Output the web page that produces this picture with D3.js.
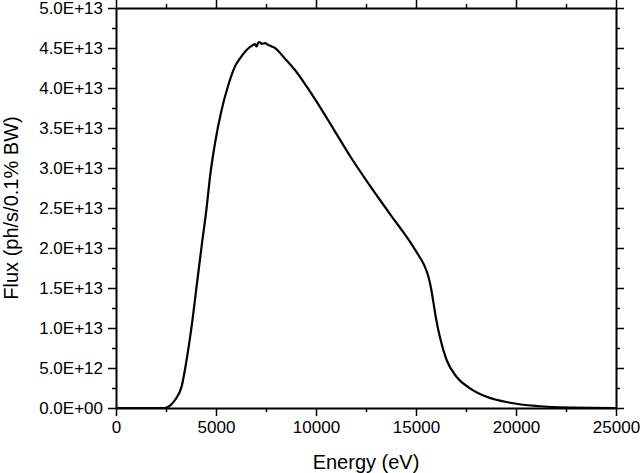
<!DOCTYPE html>
<html lang="en">
<head>
    <meta charset="utf-8">
    <title>Flux vs Energy</title>
    <style type="text/css">
        body { margin: 0; background: #fff; }
        svg { font-family: "Liberation Sans", Arial, sans-serif; }
        .line { fill: none; stroke: #000; stroke-width: 2.2; stroke-linejoin: round; }
        .axis path { stroke: #000; stroke-width: 2; }
        .axis line { stroke: #000; stroke-width: 1.5; }
        .axis text { font-size: 17px; fill: #000; }
        .title { font-size: 20px; fill: #000; }
    </style>
</head>
<body>
<div id="chart"></div>

<script src="https://d3js.org/d3.v7.min.js"></script>
<script type="text/javascript">

    // energy in eV, flux in ph/s/0.1% BW
    var energy = [0, 2450, 2700, 2950, 3280, 3530, 3780, 4030, 4280, 4530, 4700, 4950, 5280, 5620,
        5950, 6200, 6530, 6870, 6950, 7030, 7120, 7200, 7300, 7450, 7600, 7780, 7950, 8370, 8950,
        9530, 9950, 10870, 11700, 12530, 13200, 13800, 14300, 14800, 15150, 15400, 15600, 15750, 15870, 16000,
        16200, 16530, 17030, 17700, 18530, 19700, 21030, 22700, 24850, 25000];
    var flux = [0, 0, 0.03e13, 0.1e13, 0.267e13, 0.6e13, 1.02e13, 1.52e13, 2.02e13, 2.5e13, 2.89e13,
        3.31e13, 3.725e13, 4.04e13, 4.27e13, 4.37e13, 4.475e13, 4.54e13, 4.55e13, 4.52e13, 4.57e13,
        4.57e13, 4.55e13, 4.56e13, 4.54e13, 4.52e13, 4.5e13, 4.39e13, 4.225e13, 4.02e13, 3.86e13,
        3.49e13, 3.15e13, 2.84e13, 2.6e13, 2.39e13, 2.22e13, 2.04e13, 1.9e13, 1.79e13, 1.66e13, 1.5e13, 1.32e13, 1.12e13,
        0.88e13, 0.6e13, 0.39e13, 0.246e13, 0.14e13, 0.066e13, 0.025e13, 0.005e13, 0, 0];

    var xTicks = [0, 5000, 10000, 15000, 20000, 25000];
    var yTicks = [0, 5e12, 1e13, 1.5e13, 2e13, 2.5e13, 3e13, 3.5e13, 4e13, 4.5e13, 5e13];
    var yLabels = ["0.0E+00", "5.0E+12", "1.0E+13", "1.5E+13", "2.0E+13", "2.5E+13",
        "3.0E+13", "3.5E+13", "4.0E+13", "4.5E+13", "5.0E+13"];

    var dataset = energy.map(function(e, i) { return { x: e, y: flux[i] }; });

    var margin = { left: 116, right: 24, top: 8, bottom: 65 };
    var width = 640 - margin.left - margin.right,
        height = 473 - margin.top - margin.bottom;

    var svg = d3.select("#chart")
        .append("svg")
        .attr("width", 640)
        .attr("height", 473)
        .append("g")
        .attr("transform", "translate(" + margin.left + "," + margin.top + ")");

    var xScale = d3.scaleLinear().domain([0, 25000]).range([0, width]);
    var yScale = d3.scaleLinear().domain([0, 5e13]).range([height, 0]);

    // minor ticks halfway between majors
    var xMinor = d3.range(2500, 25000, 5000);
    var yMinor = d3.range(2.5e12, 5e13, 5e12);

    function minorAxis(g, axis, vals) {
        g.call(axis.tickValues(vals).tickSize(4).tickFormat(""));
        g.select(".domain").remove();
    }

    // minor ticks (bottom, left, top, right)
    svg.append("g").attr("class", "axis").attr("transform", "translate(0," + height + ")")
        .call(minorAxis, d3.axisBottom(xScale), xMinor);
    svg.append("g").attr("class", "axis")
        .call(minorAxis, d3.axisLeft(yScale), yMinor);
    svg.append("g").attr("class", "axis")
        .call(minorAxis, d3.axisTop(xScale), xMinor);
    svg.append("g").attr("class", "axis").attr("transform", "translate(" + width + ",0)")
        .call(minorAxis, d3.axisRight(yScale), yMinor);

    // major axes
    svg.append("g")
        .attr("class", "x axis")
        .attr("transform", "translate(0," + height + ")")
        .call(d3.axisBottom(xScale).tickValues(xTicks).tickSize(8).tickSizeOuter(0).tickPadding(5)
            .tickFormat(d3.format("d")));

    svg.append("g")
        .attr("class", "y axis")
        .call(d3.axisLeft(yScale).tickValues(yTicks).tickSize(8).tickSizeOuter(0).tickPadding(5)
            .tickFormat(function(d, i) { return yLabels[i]; }));

    svg.append("g")
        .attr("class", "axis")
        .call(d3.axisTop(xScale).tickValues(xTicks).tickSize(8).tickSizeOuter(0).tickFormat(""));

    svg.append("g")
        .attr("class", "axis")
        .attr("transform", "translate(" + width + ",0)")
        .call(d3.axisRight(yScale).tickValues(yTicks).tickSize(8).tickSizeOuter(0).tickFormat(""));

    var line = d3.line()
        .x(function(d) { return xScale(d.x); })
        .y(function(d) { return yScale(d.y); })
        .curve(d3.curveMonotoneX);

    svg.append("path")
        .datum(dataset)
        .attr("class", "line")
        .attr("d", line);

    svg.append("text")
        .attr("class", "title")
        .attr("x", width / 2)
        .attr("y", height + 61)
        .attr("text-anchor", "middle")
        .text("Energy (eV)");

    svg.append("text")
        .attr("class", "title")
        .attr("transform", "translate(" + (-98) + "," + (height / 2) + ") rotate(-90)")
        .attr("text-anchor", "middle")
        .text("Flux (ph/s/0.1% BW)");

</script>
</body>
</html>
